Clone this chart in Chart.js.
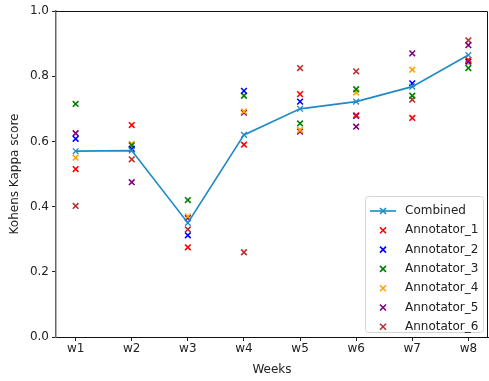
<!DOCTYPE html>
<html>
<head>
<meta charset="utf-8">
<script src="https://cdn.jsdelivr.net/npm/chart.js@4/dist/chart.umd.min.js"></script>
<style>
  html, body { margin: 0; padding: 0; background: #fff; }
  #wrap { width: 489px; height: 381px; }
</style>
</head>
<body>
<div id="wrap"><canvas id="kappa" width="489" height="381"></canvas></div>
<script>
// data
var weeks = ['w1', 'w2', 'w3', 'w4', 'w5', 'w6', 'w7', 'w8'];
var combined    = [0.570, 0.572, 0.350, 0.620, 0.700, 0.722, 0.768, 0.865];
var annotator_1 = [0.515, 0.650, 0.275, 0.590, 0.745, 0.680, 0.672, 0.850];
var annotator_2 = [0.608, 0.577, 0.312, 0.755, 0.722, 0.678, 0.778, 0.845];
var annotator_3 = [0.715, 0.588, 0.420, 0.740, 0.655, 0.760, 0.740, 0.825];
var annotator_4 = [0.550, 0.592, 0.370, 0.692, 0.635, 0.750, 0.820, 0.840];
var annotator_5 = [0.625, 0.475, 0.365, 0.688, 0.630, 0.645, 0.870, 0.895];
var annotator_6 = [0.402, 0.545, 0.330, 0.260, 0.825, 0.815, 0.728, 0.910];

var yTicks = [0, 0.2, 0.4, 0.6, 0.8, 1.0];

var FONT = 'DejaVu Sans';
Chart.defaults.font.family = FONT;
Chart.defaults.font.size = 12;
Chart.defaults.color = '#222';

function pts(arr) {
    return arr.map(function(v, i) { return { x: i, y: v }; });
}

function annot(label, arr, color) {
    return {
        label: label,
        data: pts(arr),
        showLine: false,
        pointStyle: 'crossRot',
        pointRadius: 4,
        pointBorderWidth: 1.6,
        borderColor: color,
        backgroundColor: color,
        pointHoverRadius: 4
    };
}

var datasets = [
    {
        label: 'Combined',
        data: pts(combined),
        borderColor: '#1f8bc6',
        backgroundColor: '#1f8bc6',
        borderWidth: 1.7,
        pointStyle: 'crossRot',
        pointRadius: 4,
        pointBorderWidth: 1.3,
        tension: 0
    },
    annot('Annotator_1', annotator_1, '#ff0000'),
    annot('Annotator_2', annotator_2, '#0000ff'),
    annot('Annotator_3', annotator_3, '#008000'),
    annot('Annotator_4', annotator_4, '#ffa500'),
    annot('Annotator_5', annotator_5, '#800080'),
    annot('Annotator_6', annotator_6, '#b83232')
];

// matplotlib-like frame and legend box inside the plot
var framePlugin = {
    id: 'frame',
    afterDraw: function(chart) {
        var c = chart.ctx, a = chart.chartArea;
        c.save();
        c.strokeStyle = '#111';
        c.lineWidth = 1;
        c.beginPath();
        c.moveTo(a.left, a.top + 0.5);
        c.lineTo(a.right - 0.5, a.top + 0.5);
        c.lineTo(a.right - 0.5, a.bottom);
        c.stroke();

        // legend
        var w = 118, h = 136;
        var x0 = a.right - w - 5, y0 = a.bottom - h - 5;
        c.fillStyle = 'rgba(255,255,255,0.85)';
        c.strokeStyle = '#d6d6d6';
        c.beginPath();
        c.roundRect(x0 + 0.5, y0 + 0.5, w, h, 3);
        c.fill();
        c.stroke();
        c.font = '12px ' + FONT;
        c.textBaseline = 'middle';
        chart.data.datasets.forEach(function(ds, i) {
            var cy = y0 + 15 + i * 19.3;
            var mx = x0 + 18;
            c.strokeStyle = ds.borderColor;
            c.lineWidth = 1.6;
            if (i === 0) {
                c.beginPath();
                c.moveTo(x0 + 5, cy);
                c.lineTo(x0 + 31, cy);
                c.stroke();
            }
            var r = 3;
            c.beginPath();
            c.moveTo(mx - r, cy - r); c.lineTo(mx + r, cy + r);
            c.moveTo(mx + r, cy - r); c.lineTo(mx - r, cy + r);
            c.stroke();
            c.fillStyle = '#222';
            c.fillText(ds.label, x0 + 40, cy);
        });
        c.restore();
    }
};

var ctx = document.getElementById('kappa').getContext('2d');
var chart = new Chart(ctx, {
    type: 'line',
    data: { datasets: datasets },
    options: {
        responsive: false,
        animation: false,
        layout: { autoPadding: false, padding: { left: 0, right: 1, top: 11, bottom: 0 } },
        plugins: {
            legend: { display: false },
            tooltip: { enabled: false }
        },
        scales: {
            x: {
                type: 'linear',
                min: -0.35,
                max: 7.35,
                afterBuildTicks: function(axis) {
                    axis.ticks = weeks.map(function(w, i) { return { value: i }; });
                },
                afterFit: function(axis) { axis.height = 44; },
                ticks: {
                    callback: function(v) { return weeks[v]; },
                    padding: 1,
                    maxRotation: 0
                },
                grid: { display: true, drawOnChartArea: false, color: '#222', tickLength: 4 },
                border: { display: true, color: '#111', width: 1 },
                title: { display: true, text: 'Weeks', padding: { top: 0 } }
            },
            y: {
                min: 0,
                max: 1,
                afterBuildTicks: function(axis) {
                    axis.ticks = yTicks.map(function(v) { return { value: v }; });
                },
                afterFit: function(axis) { axis.width = 56; },
                ticks: {
                    callback: function(v) { return v.toFixed(1); },
                    padding: 3
                },
                grid: { display: true, drawOnChartArea: false, color: '#222', tickLength: 4 },
                border: { display: true, color: '#666', width: 1.5 },
                title: { display: true, text: 'Kohens Kappa score', padding: { top: 8, bottom: 0 } }
            }
        }
    },
    plugins: [framePlugin]
});
</script>
</body>
</html>
